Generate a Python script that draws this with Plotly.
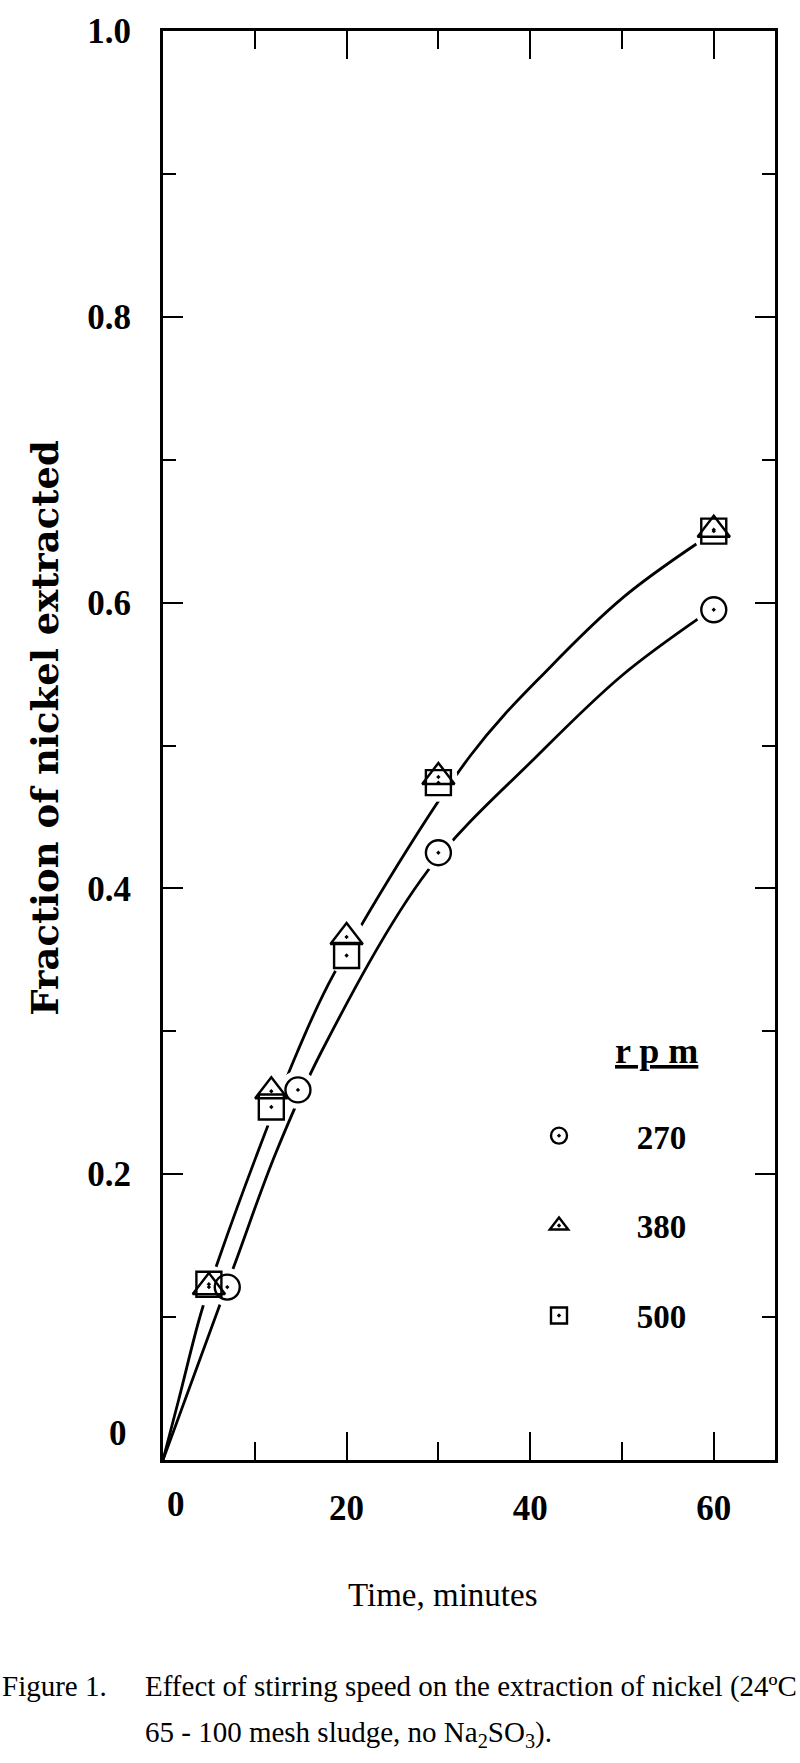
import plotly.graph_objects as go

# ---------------- data ----------------
t_270 = [7, 14.7, 30, 60]
f_270 = [0.121, 0.259, 0.425, 0.595]
t_380 = [5, 11.8, 20, 30, 60]
f_380 = [0.121, 0.258, 0.366, 0.478, 0.651]
t_500 = [5, 11.8, 20, 30, 60]
f_500 = [0.123, 0.247, 0.353, 0.474, 0.650]

# hand-drawn fitted curves, as traced on the figure
upper_t = [0, 1.7, 4.1, 6.1, 10.3, 14.6, 18.6, 33.5, 42.2, 50.2, 58.1]
upper_f = [0, 0.042, 0.102, 0.141, 0.215, 0.285, 0.340, 0.493, 0.555, 0.604, 0.641]
lower_t = [0, 7.7, 12.3, 17.2, 28.8, 40.8, 50.0, 58.6]
lower_f = [0, 0.135, 0.215, 0.285, 0.412, 0.493, 0.549, 0.590]

x_ticks = [0, 20, 40, 60]
x_ticktext = ["", "20", "40", "60"]
y_ticks = [0, 0.2, 0.4, 0.6, 0.8, 1.0]
y_ticktext = ["", "0.2", "0.4", "0.6", "0.8", "1.0"]
rpm_labels = ["270", "380", "500"]

# ---------------- layout geometry (pixels) ----------------
W, H = 800, 1763
L, R, T, B = 163, 25, 20, 303
PW = W - L - R
PH = H - T - B


def px_x(p):
    return (p - L) / PW


def px_y(p):
    return (H - B - p) / PH


SERIF = "Liberation Serif, Times New Roman, serif"
NBSP = "\u00a0"

fig = go.Figure()

for tt, ff in [(upper_t, upper_f), (lower_t, lower_f)]:
    fig.add_trace(go.Scatter(
        x=tt, y=ff, mode="lines",
        line=dict(color="black", width=2.8, shape="spline", smoothing=1.0),
        showlegend=False, hoverinfo="skip"))

# white halos that break the curves around the symbols
for tt, ff in [(t_270, f_270), (t_380, f_380), (t_500, f_500)]:
    fig.add_trace(go.Scatter(
        x=tt, y=ff, mode="markers",
        marker=dict(symbol="circle", size=38, color="white", line=dict(width=0)),
        showlegend=False, hoverinfo="skip"))

symbols = ["circle-open-dot", "triangle-up-open-dot", "square-open-dot"]
sizes = [25, 28, 25]
for (tt, ff), sym, sz, lab in zip([(t_270, f_270), (t_380, f_380), (t_500, f_500)],
                                  symbols, sizes, rpm_labels):
    fig.add_trace(go.Scatter(
        x=tt, y=ff, mode="markers", name=NBSP * 7 + lab, legendgroup=lab,
        marker=dict(symbol=sym, size=sz, color="black", line=dict(width=2.4, color="black")),
        showlegend=True))

axis_common = dict(
    showline=True, linecolor="black", linewidth=3, mirror="ticks",
    ticks="inside", tickcolor="black", tickwidth=2.4,
    showgrid=False, zeroline=False,
    tickfont=dict(family=SERIF, size=35, color="black", weight="bold"),
)

fig.update_xaxes(
    range=[0, 66.67], tickmode="array", tickvals=x_ticks, ticktext=x_ticktext,
    ticklen=28, ticklabelstandoff=15,
    minor=dict(tickmode="linear", tick0=0, dtick=10, ticks="inside", ticklen=18,
               tickwidth=2.4, tickcolor="black"),
    **axis_common)
fig.update_yaxes(
    range=[0, 1.0], tickmode="array", tickvals=y_ticks, ticktext=y_ticktext,
    ticklen=20, ticklabelstandoff=22,
    minor=dict(tickmode="linear", tick0=0, dtick=0.1, ticks="inside", ticklen=13,
               tickwidth=2.4, tickcolor="black"),
    **axis_common)

ann = []
# zero labels (placed off-tick as in the original)
ann.append(dict(xref="paper", yref="paper", x=px_x(176), y=px_y(1505), text="0",
                showarrow=False, xanchor="center", yanchor="middle",
                font=dict(family=SERIF, size=35, color="black", weight="bold")))
ann.append(dict(xref="paper", yref="paper", x=px_x(129), y=px_y(1433), text="0",
                showarrow=False, xanchor="right", yanchor="middle",
                font=dict(family=SERIF, size=35, color="black", weight="bold")))
# axis titles
ann.append(dict(xref="paper", yref="paper", x=px_x(442), y=px_y(1596), text="Time, minutes",
                showarrow=False, xanchor="center", yanchor="middle",
                font=dict(family=SERIF, size=33, color="black")))
ann.append(dict(xref="paper", yref="paper", x=px_x(45), y=px_y(722),
                text="Fraction of nickel extracted", textangle=-90,
                showarrow=False, xanchor="center", yanchor="middle",
                font=dict(family="DejaVu Serif, serif", size=37, color="black", weight="bold")))
# legend header
ann.append(dict(xref="paper", yref="paper", x=px_x(613), y=px_y(1048), text="<u>r p m</u>",
                showarrow=False, xanchor="left", yanchor="middle",
                font=dict(family=SERIF, size=36, color="black", weight="bold")))
# caption
cap_font = dict(family=SERIF, size=29, color="black")
ann.append(dict(xref="paper", yref="paper", x=px_x(0), y=px_y(1688), text="Figure 1.",
                showarrow=False, xanchor="left", yanchor="middle", font=cap_font))
ann.append(dict(xref="paper", yref="paper", x=px_x(143), y=px_y(1688),
                text="Effect of stirring speed on the extraction of nickel (24\u00baC",
                showarrow=False, xanchor="left", yanchor="middle", font=cap_font))
ann.append(dict(xref="paper", yref="paper", x=px_x(143), y=px_y(1736),
                text="65 - 100 mesh sludge, no Na<sub>2</sub>SO<sub>3</sub>).",
                showarrow=False, xanchor="left", yanchor="middle", font=cap_font))

fig.update_layout(
    width=W, height=H,
    margin=dict(l=L, r=R, t=T, b=B, pad=0),
    paper_bgcolor="white", plot_bgcolor="white",
    annotations=ann,
    showlegend=True,
    legend=dict(x=px_x(539), y=px_y(1105), xanchor="left", yanchor="top",
                bgcolor="rgba(0,0,0,0)", borderwidth=0,
                tracegroupgap=44, itemsizing="trace",
                font=dict(family=SERIF, size=33, color="black", weight="bold")),
)

fig.write_html("out.html")
